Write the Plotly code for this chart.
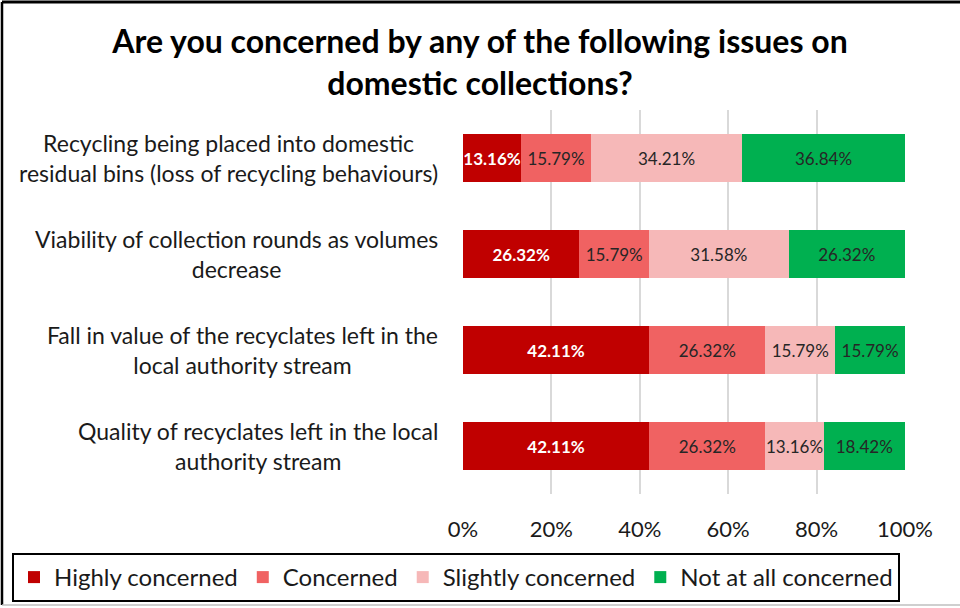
import plotly.graph_objects as go

# Survey questions (top to bottom)
questions = [
    "Recycling being placed into domestic<br>residual bins (loss of recycling behaviours)",
    "Viability of collection rounds as volumes<br>decrease",
    "Fall in value of the recyclates left in the<br>local authority stream",
    "Quality of recyclates left in the local<br>authority stream",
]
question_keys = ["Q1", "Q2", "Q3", "Q4"]

# Response shares (%) per question
highly_concerned = [13.16, 26.32, 42.11, 42.11]
concerned = [15.79, 15.79, 26.32, 26.32]
slightly_concerned = [34.21, 31.58, 15.79, 13.16]
not_at_all_concerned = [36.84, 26.32, 15.79, 18.42]

series_names = ["Highly concerned", "Concerned", "Slightly concerned", "Not at all concerned"]
series_values = [highly_concerned, concerned, slightly_concerned, not_at_all_concerned]
series_colors = ["#C00000", "#F06262", "#F6B8B8", "#00B050"]
label_colors = ["#FFFFFF", "#262626", "#262626", "#262626"]

tick_values = [0, 20, 40, 60, 80, 100]
tick_labels = ["0%", "20%", "40%", "60%", "80%", "100%"]

FONT = "Lato"

fig = go.Figure()
for name, vals, col, lcol in zip(series_names, series_values, series_colors, label_colors):
    fig.add_trace(go.Bar(
        y=question_keys,
        x=vals,
        name=name,
        orientation="h",
        marker=dict(color=col, line=dict(width=0)),
        text=vals,
        texttemplate="%{x:.2f}%",
        textposition="inside",
        insidetextanchor="middle",
        textangle=0,
        constraintext="none",
        textfont=dict(family=FONT, size=17, color=lcol,
                      weight="bold" if lcol == "#FFFFFF" else "normal"),
        cliponaxis=False,
    ))

# Category labels, centred multi-line text to the left of the bars
for key, q in zip(question_keys, questions):
    fig.add_annotation(
        x=-0.052, xref="paper", xanchor="right",
        y=key, yref="y", yanchor="middle",
        text=q, showarrow=False, align="center",
        font=dict(family=FONT, size=23, color="#1a1a1a"),
    )

W, H = 960, 608
L, R, T, B = 463, 55, 110, 114
PW, PH = W - L - R, H - T - B

def px_x(px):
    return (px - L) / PW

def px_y(py):
    return (H - B - py) / PH

# Outer frame lines
fig.add_shape(type="line", xref="paper", yref="paper",
              x0=px_x(2), x1=px_x(2), y0=px_y(2), y1=px_y(605),
              line=dict(color="black", width=2.5))
fig.add_shape(type="line", xref="paper", yref="paper",
              x0=px_x(2), x1=px_x(960), y0=px_y(2), y1=px_y(2),
              line=dict(color="black", width=3))
fig.add_shape(type="line", xref="paper", yref="paper",
              x0=px_x(2), x1=px_x(960), y0=px_y(605), y1=px_y(605),
              line=dict(color="#BFBFBF", width=1.5))

fig.update_layout(
    width=W, height=H,
    margin=dict(l=L, r=R, t=T, b=B, autoexpand=False),
    paper_bgcolor="white", plot_bgcolor="white",
    barmode="stack", bargap=0.5,
    title=dict(
        text="Are you concerned by any of the following issues on<br>domestic collections?",
        x=0.5, xanchor="center", y=1 - 53 / H, yanchor="middle",
        font=dict(family=FONT, size=32, color="black", weight="bold"),
    ),
    xaxis=dict(
        range=[0, 100.02], tickvals=tick_values, ticktext=tick_labels,
        showgrid=True, gridcolor="#D9D9D9", gridwidth=1.5,
        zeroline=False, showline=False,
        tickfont=dict(family=FONT, size=22, color="#1a1a1a"),
        ticks="", ticklabelstandoff=20,
    ),
    yaxis=dict(
        categoryorder="array", categoryarray=question_keys,
        autorange="reversed", showticklabels=False,
        showgrid=False, zeroline=False, showline=False,
    ),
    legend=dict(
        orientation="h", x=px_x(12), xanchor="left",
        y=px_y(553), yanchor="top",
        bordercolor="black", borderwidth=2,
        font=dict(family=FONT, size=24, color="#1a1a1a"),
        traceorder="normal", itemwidth=30,
    ),
    showlegend=True,
)

fig.write_html("out.html")
